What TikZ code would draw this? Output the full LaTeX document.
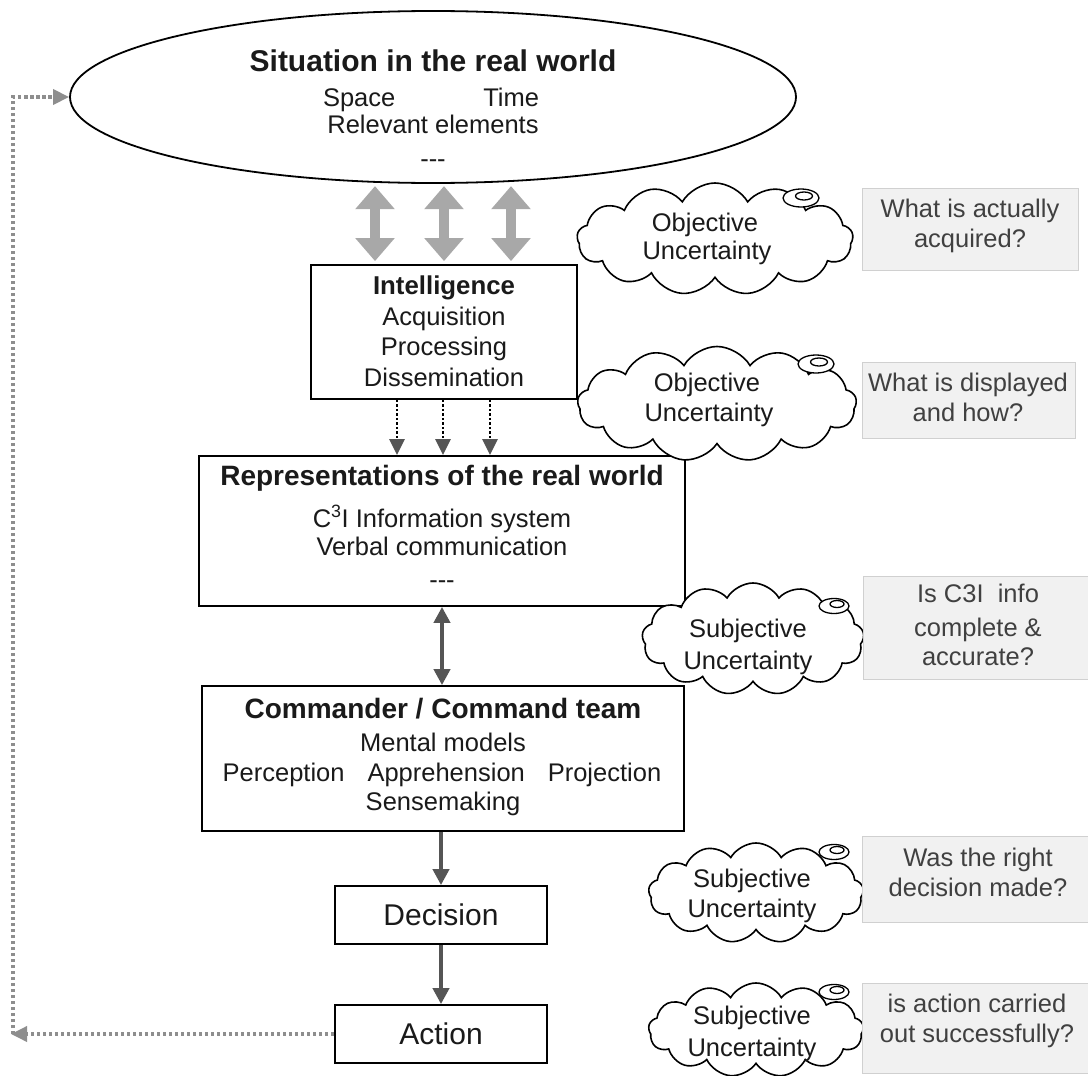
\documentclass[tikz,border=0pt]{standalone}
\usepackage{fontspec}
\setmainfont{Liberation Sans}
\usetikzlibrary{shapes.symbols,shapes.geometric,arrows.meta,calc}
\definecolor{txt}{HTML}{1A1A1A}
\definecolor{qtxt}{HTML}{404040}
\definecolor{qfill}{HTML}{F1F1F1}
\definecolor{qline}{HTML}{D0D0D0}
\definecolor{biggray}{HTML}{A8A8A8}
\definecolor{dark}{HTML}{555555}
\definecolor{fbgray}{HTML}{8E8E8E}
\begin{document}
\begin{tikzpicture}[x=1pt,y=-1pt,
  box/.style={draw=black, line width=1.8pt, fill=white, inner sep=0pt},
  hd/.style={font=\bfseries\fontsize{28}{30}\selectfont, text=txt, anchor=base, inner sep=0pt},
  hdsmall/.style={font=\bfseries\fontsize{25.8}{30}\selectfont, text=txt, anchor=base, inner sep=0pt},
  bd/.style={font=\fontsize{25.5}{30}\selectfont, text=txt, anchor=base, inner sep=0pt},
  big/.style={font=\fontsize{30}{32}\selectfont, text=txt},
  qt/.style={font=\fontsize{25.5}{30}\selectfont, text=qtxt, anchor=base, inner sep=0pt},
  cloudshape/.style={cloud, draw=black, line width=1.6pt, fill=white, cloud puffs=13, cloud puff arc=120, cloud ignores aspect, inner sep=0pt},
  knob/.style={ellipse, draw=black, line width=1.3pt, fill=white, inner sep=0pt},
  qbox/.style={draw=qline, line width=1pt, fill=qfill, inner sep=0pt},
  bigarrow/.style={draw=biggray, line width=10pt, {Triangle[width=38pt,length=23pt]}-{Triangle[width=38pt,length=23pt]}},
  dotarrow/.style={draw=black, line width=2.5pt, dash pattern=on 2.5pt off 2pt, -{Triangle[width=15pt,length=16pt,fill=dark,color=dark]}},
  darkarrow/.style={draw=dark, line width=4pt, -{Triangle[width=16pt,length=16pt]}},
  dbldark/.style={draw=dark, line width=4pt, {Triangle[width=16pt,length=16pt]}-{Triangle[width=16pt,length=16pt]}},
  fbline/.style={draw=fbgray, line width=3.5pt, dash pattern=on 3.5pt off 2.5pt}
]
\useasboundingbox (0,0) rectangle (1088,1076);
\fill[white] (0,0) rectangle (1088,1076);

% ---- ellipse
\node[draw=black, ellipse, line width=1.8pt, fill=white, minimum width=726, minimum height=172, inner sep=0pt] (ell) at (433,97) {};
\node[font=\bfseries\fontsize{30}{32}\selectfont, text=txt, anchor=base, inner sep=0pt] (ell1) at (433,71) {Situation in the real world};
\node[bd] (ell2) at (431,106) {Space\hspace{3.45em}Time};
\node[bd] (ell3) at (433,133) {Relevant elements};
\node[bd] (ell4) at (433,167) {-{}-{}-};

% ---- intelligence
\node[box, minimum width=266, minimum height=134] (intel) at (444,332) {};
\node[hdsmall] (in1) at (444,294) {Intelligence};
\node[bd] (in2) at (444,325) {Acquisition};
\node[bd] (in3) at (444,355) {Processing};
\node[bd] (in4) at (444,386) {Dissemination};

% ---- representations
\node[box, minimum width=486, minimum height=150] (rep) at (442,531) {};
\node[hd] (re1) at (442,485) {Representations of the real world};
\node[bd] (re2) at (442,527) {C\textsuperscript{3}I Information system};
\node[bd] (re3) at (442,555) {Verbal communication};
\node[bd] (re4) at (442,588) {-{}-{}-};

% ---- commander
\node[box, minimum width=482, minimum height=145] (cmd) at (443,758.5) {};
\node[hd] (cm1) at (443,718) {Commander / Command team};
\node[bd] (cm2) at (443,751) {Mental models};
\node[bd] (cm3) at (442,781) {Perception\hspace{0.9em}Apprehension\hspace{0.9em}Projection};
\node[bd] (cm4) at (443,810) {Sensemaking};

% ---- decision / action
\node[box, big, minimum width=212, minimum height=58] (dec) at (441,915) {Decision};
\node[box, big, minimum width=212, minimum height=58] (act) at (441,1034) {Action};

% ---- arrows between situation and intelligence
\coordinate (b1) at ($(intel.north)+(-69,-3)$);
\coordinate (b2) at ($(intel.north)+(0,-3)$);
\coordinate (b3) at ($(intel.north)+(67,-3)$);
\draw[bigarrow] (b1) -- ($(b1)+(0,-75)$);
\draw[bigarrow] (b2) -- ($(b2)+(0,-75)$);
\draw[bigarrow] (b3) -- ($(b3)+(0,-75)$);

% ---- dotted arrows intelligence -> representations
\coordinate (d1) at ($(intel.south)+(-47,0)$);
\coordinate (d2) at ($(intel.south)+(-1,0)$);
\coordinate (d3) at ($(intel.south)+(46,0)$);
\draw[dotarrow] (d1) -- (d1 |- rep.north);
\draw[dotarrow] (d2) -- (d2 |- rep.north);
\draw[dotarrow] (d3) -- (d3 |- rep.north);

% ---- solid arrows
\draw[dbldark] (rep.south) -- (rep.south |- cmd.north);
\draw[darkarrow] (dec.north |- cmd.south) -- (dec.north);
\draw[darkarrow] (dec.south) -- (act.north);

% ---- feedback loop
\coordinate (fbx) at (13,0);
\draw[fbline, -{Triangle[width=15pt,length=16pt,fill=fbgray,color=fbgray]}] (act.west) -- ($(act.west -| fbx)+(-2,0)$);
\draw[fbline, -{Triangle[width=15pt,length=16pt,fill=fbgray,color=fbgray]}] (act.west -| fbx) -- (ell.west -| fbx) -- (ell.west);

% ---- clouds
\node[cloudshape, minimum width=276, minimum height=112] (c1) at (715,239) {};
\node[cloudshape, minimum width=279, minimum height=115] (c2) at (717,404) {};
\node[cloudshape, minimum width=222, minimum height=112] (c3) at (753,639) {};
\node[cloudshape, minimum width=215, minimum height=100] (c4) at (756,893) {};
\node[cloudshape, minimum width=215, minimum height=94] (c5) at (756,1030) {};

\node[knob, minimum width=36, minimum height=18] (k1) at (801,198) {};
\node[knob, minimum width=17, minimum height=8] (k1i) at (804,196) {};
\node[knob, minimum width=36, minimum height=18] (k2) at (816,364) {};
\node[knob, minimum width=17, minimum height=8] (k2i) at (819,362) {};
\node[knob, minimum width=30, minimum height=15] (k3) at (834,606) {};
\node[knob, minimum width=14, minimum height=7] (k3i) at (837,604) {};
\node[knob, minimum width=30, minimum height=15] (k4) at (834,852) {};
\node[knob, minimum width=14, minimum height=7] (k4i) at (837,850) {};
\node[knob, minimum width=30, minimum height=15] (k5) at (834,992) {};
\node[knob, minimum width=14, minimum height=7] (k5i) at (837,990) {};

\node[bd] (c1a) at (705,231) {Objective};
\node[bd] (c1b) at (707,259) {Uncertainty};
\node[bd] (c2a) at (707,391) {Objective};
\node[bd] (c2b) at (709,421) {Uncertainty};
\node[bd] (c3a) at (748,637) {Subjective};
\node[bd] (c3b) at (748,669) {Uncertainty};
\node[bd] (c4a) at (752,887) {Subjective};
\node[bd] (c4b) at (752,917) {Uncertainty};
\node[bd] (c5a) at (752,1024) {Subjective};
\node[bd] (c5b) at (752,1056) {Uncertainty};

% ---- question boxes
\node[qbox, minimum width=216, minimum height=82] (q1) at (970,229) {};
\node[qbox, minimum width=213, minimum height=76] (q2) at (968.5,400) {};
\node[qbox, minimum width=225, minimum height=103] (q3) at (975.5,627.5) {};
\node[qbox, minimum width=226, minimum height=86] (q4) at (975,879) {};
\node[qbox, minimum width=226, minimum height=90] (q5) at (975,1028) {};

\node[qt] (q1a) at (970,217) {What is actually};
\node[qt] (q1b) at (970,247) {acquired?};
\node[qt] (q2a) at (968,391) {What is displayed};
\node[qt] (q2b) at (968,421) {and how?};
\node[qt] (q3a) at (978,602) {Is C3I\ \ info};
\node[qt] (q3b) at (978,636) {complete \&};
\node[qt] (q3c) at (978,665) {accurate?};
\node[qt] (q4a) at (978,866) {Was the right};
\node[qt] (q4b) at (978,896) {decision made?};
\node[qt] (q5a) at (977,1012) {is action carried};
\node[qt] (q5b) at (977,1042) {out successfully?};
\end{tikzpicture}
\end{document}
